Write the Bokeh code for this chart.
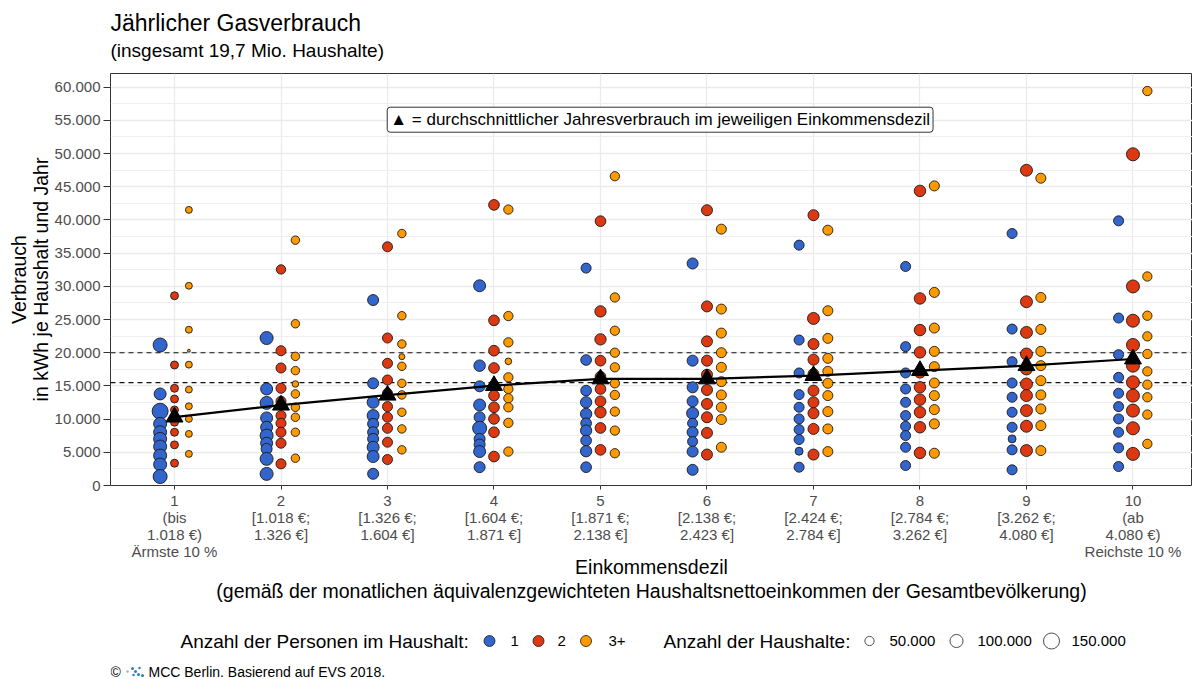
import math
from bokeh.plotting import figure
from bokeh.models import ColumnDataSource, FixedTicker, Range1d, Label, Span
from bokeh.transform import dodge
from bokeh.layouts import column
from bokeh.embed import file_html
from bokeh.resources import INLINE

# ---------------- data ----------------
TITLE = "Jährlicher Gasverbrauch"
SUBTITLE = "(insgesamt 19,7 Mio. Haushalte)"
Y_LABEL = "Verbrauch\nin kWh je Haushalt und Jahr"
X_LABEL = ("Einkommensdezil\n(gemäß der monatlichen äquivalenzgewichteten "
           "Haushaltsnettoeinkommen der Gesamtbevölkerung)")
NOTE = "▲ = durchschnittlicher Jahresverbrauch im jeweiligen Einkommensdezil"
CAPTION = "MCC Berlin. Basierend auf EVS 2018."
LEGEND_PERSONS_TITLE = "Anzahl der Personen im Haushalt:"
LEGEND_SIZE_TITLE = "Anzahl der Haushalte:"

DECILES = [1, 2, 3, 4, 5, 6, 7, 8, 9, 10]
DECILE_LABELS = [
    "1\n(bis\n1.018 €)\nÄrmste 10 %",
    "2\n[1.018 €;\n1.326 €]",
    "3\n[1.326 €;\n1.604 €]",
    "4\n[1.604 €;\n1.871 €]",
    "5\n[1.871 €;\n2.138 €]",
    "6\n[2.138 €;\n2.423 €]",
    "7\n[2.424 €;\n2.784 €]",
    "8\n[2.784 €;\n3.262 €]",
    "9\n[3.262 €;\n4.080 €]",
    "10\n(ab\n4.080 €)\nReichste 10 %",
]
GROUPS = ["1", "2", "3+"]

# consumption (kWh per household and year), one list per decile
KWH_1P = [
    [21160, 13790, 11180, 9280, 8020, 7020, 5870, 4510, 3160, 1350],
    [22210, 14540, 12440, 10180, 8770, 7520, 6370, 5510, 4010, 1750],
    [27930, 15390, 12530, 10530, 9280, 8020, 7020, 5760, 4360, 1760],
    [30080, 18050, 14940, 12130, 10280, 8620, 7020, 6170, 5110, 2760],
    [32740, 18900, 14290, 12530, 10780, 9370, 8270, 6770, 5160, 2760],
    [33440, 18800, 14790, 12680, 10880, 9370, 8020, 6620, 5110, 2360],
    [36200, 21910, 16950, 13690, 11780, 10030, 8420, 6920, 5160, 2760],
    [32990, 20910, 16950, 14540, 12530, 10530, 8920, 7520, 5760, 3010],
    [37950, 23560, 18650, 15440, 13290, 11030, 8770, 7020, 5370, 2360],
    [39860, 25220, 19700, 16290, 13890, 11880, 10030, 8020, 5670, 2860],
]
KWH_2P = [
    [28580, 18150, 14640, 13030, 11380, 10400, 9530, 8020, 6120, 3360],
    [32540, 20300, 17700, 14640, 12680, 10530, 9370, 8020, 6370, 3260],
    [35950, 22210, 18400, 15890, 13890, 11880, 10280, 8620, 6520, 3910],
    [42260, 24870, 20300, 17700, 15040, 13540, 11780, 10030, 8020, 4360],
    [39810, 26220, 22010, 18800, 16390, 14540, 12680, 11030, 8670, 5370],
    [41460, 26970, 21710, 18800, 16690, 14390, 12280, 10280, 7920, 4660],
    [40710, 25160, 21310, 18950, 16790, 14290, 12530, 10880, 8520, 4660],
    [44370, 28170, 23410, 20050, 17040, 14790, 12930, 11030, 8770, 4910],
    [47480, 27670, 23060, 19810, 17550, 15290, 13540, 11280, 8920, 5260],
    [49880, 29980, 24820, 21160, 18050, 15540, 13540, 11280, 8620, 4760],
]
KWH_3P = [
    [41510, 30080, 23460, 20300, 18200, 14440, 11930, 10030, 7770, 4760],
    [36950, 24360, 19450, 17300, 15290, 13790, 11780, 10280, 8020, 4110],
    [37950, 25570, 21310, 19400, 17950, 15390, 13640, 11030, 8520, 5370],
    [41560, 25520, 21560, 18700, 16290, 14540, 13140, 11780, 9430, 5110],
    [46580, 28320, 23310, 20000, 17800, 15390, 13640, 11130, 8270, 4860],
    [38610, 26570, 22960, 20000, 17800, 15640, 13640, 11780, 9930, 5760],
    [38450, 26320, 22160, 19150, 17190, 15390, 13540, 11130, 8520, 5110],
    [45120, 29080, 23710, 20200, 17900, 15440, 13540, 11430, 9280, 4860],
    [46280, 28320, 23510, 20200, 18050, 15790, 13640, 11530, 9020, 5260],
    [59410, 31480, 25570, 22460, 19810, 17190, 15190, 13290, 10680, 6270],
]
# number of households (thousands) behind each point
HH_1P = [
    [115, 84, 150, 99, 99, 99, 99, 99, 99, 115],
    [99, 84, 99, 84, 84, 99, 84, 71, 99, 99],
    [71, 71, 84, 84, 71, 71, 71, 84, 84, 71],
    [84, 77, 71, 84, 71, 115, 71, 71, 84, 71],
    [59, 67, 67, 75, 75, 67, 75, 67, 75, 67],
    [71, 71, 71, 71, 84, 59, 71, 59, 71, 71],
    [59, 59, 59, 59, 59, 59, 59, 59, 37, 59],
    [59, 59, 59, 59, 59, 59, 59, 59, 59, 59],
    [59, 59, 59, 59, 59, 59, 59, 37, 59, 59],
    [59, 59, 59, 59, 59, 59, 59, 59, 59, 59],
]
HH_2P = [
    [37, 37, 37, 37, 37, 37, 37, 37, 37, 37],
    [51, 59, 59, 59, 59, 59, 59, 59, 59, 59],
    [59, 59, 59, 59, 59, 59, 59, 59, 59, 59],
    [67, 67, 67, 67, 67, 67, 67, 67, 67, 67],
    [67, 75, 75, 67, 67, 67, 67, 75, 67, 67],
    [71, 71, 71, 71, 71, 71, 71, 71, 71, 71],
    [71, 84, 71, 71, 71, 71, 71, 71, 71, 71],
    [77, 77, 77, 77, 77, 77, 77, 77, 77, 77],
    [84, 84, 84, 84, 84, 84, 84, 84, 84, 84],
    [99, 99, 99, 99, 99, 99, 99, 99, 99, 99],
]
HH_3P = [
    [28, 28, 28, 5, 28, 28, 28, 28, 28, 28],
    [42, 42, 42, 42, 25, 42, 42, 42, 42, 42],
    [42, 42, 42, 21, 42, 42, 42, 42, 42, 42],
    [51, 51, 51, 26, 51, 51, 51, 51, 51, 51],
    [51, 51, 51, 51, 51, 51, 51, 51, 51, 51],
    [59, 59, 59, 59, 59, 59, 59, 59, 59, 59],
    [59, 59, 59, 59, 59, 59, 59, 59, 59, 59],
    [59, 59, 59, 59, 59, 59, 59, 59, 59, 59],
    [59, 59, 59, 59, 59, 59, 59, 59, 59, 59],
    [51, 51, 51, 51, 51, 51, 51, 51, 51, 51],
]
AVG_KWH = [10300, 12100, 13600, 15050, 16050, 16050, 16550, 17300, 18050, 19050]
REF_LINES = [20000, 15500]
Y_TICKS = list(range(0, 60001, 5000))
SIZE_LEGEND = [50, 100, 150]  # thousands of households

# ---------------- style ----------------
FONT = "Liberation Sans"
COLORS = ["#3366CC", "#DC3912", "#FF9900"]
OFFSETS = [-0.135, 0.0, 0.135]
W = 1192
LEFT = 110
SIZE_MAX_PX = 16.0
SIZE_REF = 150.0


def diam(n):
    return SIZE_MAX_PX * math.sqrt(n / SIZE_REF)


def fmt(v):
    return "{:,}".format(v).replace(",", ".")


def strip(height):
    f = figure(width=W, height=height, x_range=Range1d(0, W - LEFT), y_range=Range1d(height, 0),
               x_axis_location=None, y_axis_location=None,
               min_border_left=LEFT, min_border_right=0, min_border_top=0, min_border_bottom=0,
               output_backend="svg", toolbar_location=None, title=None)
    f.grid.visible = False
    f.outline_line_color = None
    return f


# ---------------- header ----------------
HH = 73
head = strip(HH)
head.add_layout(Label(x=0, y=22, text=TITLE, text_font=FONT, text_font_size="23px",
                      text_color="black", text_baseline="middle"))
head.add_layout(Label(x=0, y=50, text=SUBTITLE, text_font=FONT, text_font_size="19px",
                      text_color="black", text_baseline="middle"))

# ---------------- main plot ----------------
p = figure(width=W, height=552, x_range=Range1d(0.399, 10.559), y_range=Range1d(0, 62050),
           output_backend="svg", toolbar_location=None, title=None,
           min_border_left=LEFT, min_border_right=0, min_border_top=0, min_border_bottom=140)
p.background_fill_color = "white"
p.outline_line_color = "#333333"
p.outline_line_width = 1

p.xaxis.ticker = FixedTicker(ticks=DECILES)
p.xaxis.major_label_overrides = {d: lab for d, lab in zip(DECILES, DECILE_LABELS)}
minor = [(a + b) / 2 for a, b in zip(Y_TICKS[:-1], Y_TICKS[1:])]
minor.append(Y_TICKS[-1] + (Y_TICKS[1] - Y_TICKS[0]) / 2)
p.yaxis.ticker = FixedTicker(ticks=Y_TICKS, minor_ticks=minor)
p.yaxis.major_label_overrides = {t: fmt(t) for t in Y_TICKS}

for ax in (p.xaxis, p.yaxis):
    ax.axis_line_color = None
    ax.major_tick_line_color = "#333333"
    ax.major_tick_in = 0
    ax.minor_tick_line_color = None
    ax.major_label_text_font = FONT
    ax.major_label_text_font_size = "15px"
    ax.major_label_text_color = "#4D4D4D"
    ax.axis_label_text_font = FONT
    ax.axis_label_text_font_style = "normal"
    ax.axis_label_text_font_size = "19.5px"
    ax.axis_label_text_color = "black"

p.xaxis.major_tick_out = 4
p.xaxis.major_label_standoff = 2
p.xaxis.major_label_text_line_height = 1.0
p.xaxis.axis_label = X_LABEL
p.xaxis.axis_label_standoff = -7
p.xaxis.axis_label_text_line_height = 1.1

p.yaxis.major_tick_out = 7
p.yaxis.major_label_standoff = 3
p.yaxis.axis_label = Y_LABEL
p.yaxis.axis_label_standoff = 0
p.yaxis.axis_label_text_line_height = 1.0

p.xgrid.grid_line_color = "#EBEBEB"
p.xgrid.grid_line_width = 1.3
p.ygrid.grid_line_color = "#EBEBEB"
p.ygrid.grid_line_width = 1.3
p.ygrid.minor_grid_line_color = "#EDEDED"
p.ygrid.minor_grid_line_width = 0.9

for v in REF_LINES:
    p.add_layout(Span(location=v, dimension="width", line_color="#111111",
                      line_dash="5 4", line_width=1.1, level="underlay"))

for kwh, hh, col, off in zip([KWH_1P, KWH_2P, KWH_3P], [HH_1P, HH_2P, HH_3P], COLORS, OFFSETS):
    xs, ys, ss = [], [], []
    for d, vals, ns in zip(DECILES, kwh, hh):
        for v, n in zip(vals, ns):
            xs.append(d)
            ys.append(v)
            ss.append(diam(n))
    src = ColumnDataSource(dict(x=xs, y=ys, s=ss))
    p.scatter(x=dodge("x", off), y="y", size="s", source=src, marker="circle",
              fill_color=col, line_color="#1A1A1A", line_width=0.9)

p.line(DECILES, AVG_KWH, line_color="black", line_width=2.2)
p.scatter(DECILES, AVG_KWH, marker="triangle", size=17, fill_color="black", line_color="black")

p.add_layout(Label(x=5.56, y=55090, text=NOTE, text_font=FONT, text_font_size="17px",
                   text_color="black", text_align="center", text_baseline="middle",
                   background_fill_color="white", border_line_color="#333333",
                   border_line_width=1, padding=3, border_radius=3))

# ---------------- footer (legend + caption) ----------------
FH = 53
foot = strip(FH)
LY = 15.5
foot.add_layout(Label(x=70, y=LY, text=LEGEND_PERSONS_TITLE, text_font=FONT,
                      text_font_size="19px", text_baseline="middle", text_color="black"))
pers_x = [379, 428, 475.5]
pers_lab_x = [400, 447, 498]
foot.scatter(x=pers_x, y=[LY] * 3, size=11, fill_color=COLORS, line_color="#1A1A1A",
             line_width=0.8, marker="circle")
for lx, g in zip(pers_lab_x, GROUPS):
    foot.add_layout(Label(x=lx, y=LY, text=g, text_font=FONT, text_font_size="15px",
                          text_baseline="middle", text_color="black"))

foot.add_layout(Label(x=553, y=LY, text=LEGEND_SIZE_TITLE, text_font=FONT,
                      text_font_size="19px", text_baseline="middle", text_color="black"))
size_x = [759, 846, 941]
size_lab_x = [779, 867, 961]
foot.scatter(x=size_x, y=[LY] * 3, size=[diam(n) for n in SIZE_LEGEND], fill_color="white",
             line_color="#4D4D4D", line_width=1, marker="circle")
for lx, n in zip(size_lab_x, SIZE_LEGEND):
    foot.add_layout(Label(x=lx, y=LY, text=fmt(n * 1000), text_font=FONT,
                          text_font_size="15px", text_baseline="middle", text_color="black"))

CY = 46
foot.add_layout(Label(x=0, y=CY, text="©", text_font=FONT, text_font_size="14px",
                      text_baseline="middle", text_color="black"))
logo_x = [17, 22, 25, 28, 23, 29, 32]
logo_y = [CY, CY - 3, CY, CY + 3, CY + 3.5, CY - 3.5, CY + 4]
logo_c = ["#8DB8DD", "#2F80C0", "#2F80C0", "#2F80C0", "#2F80C0", "#2F80C0", "#2F80C0"]
foot.scatter(x=logo_x, y=logo_y, size=[2.5, 3, 3, 3, 2.5, 2.5, 3], fill_color=logo_c,
             line_color=None, marker="circle")
foot.add_layout(Label(x=38, y=CY, text=CAPTION, text_font=FONT, text_font_size="14px",
                      text_baseline="middle", text_color="black"))

layout = column(head, p, foot, spacing=0)
open("out.html", "w").write(file_html(layout, INLINE))
